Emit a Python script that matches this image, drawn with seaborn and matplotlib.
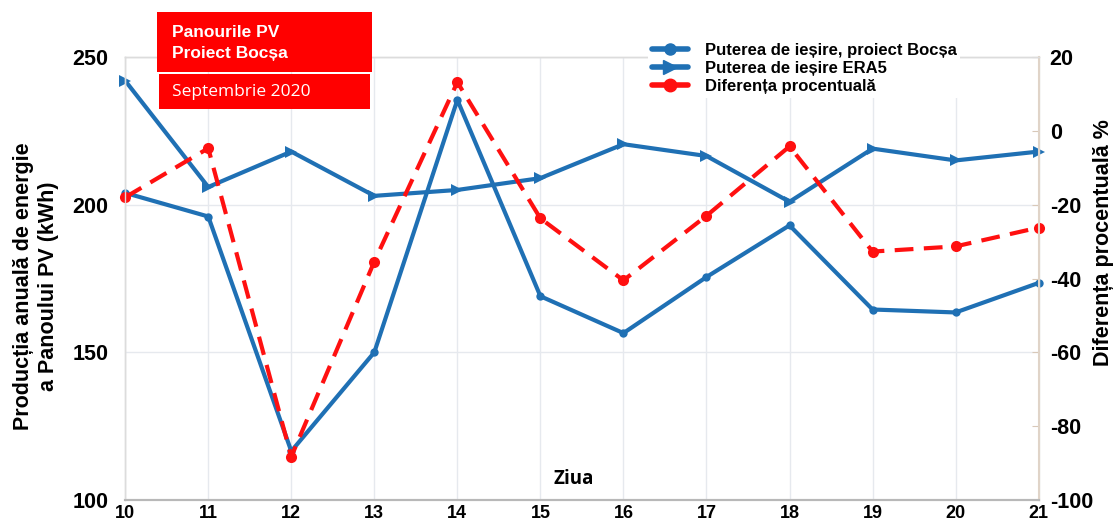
import numpy as np
import pandas as pd
import matplotlib.pyplot as plt
from matplotlib.patches import Rectangle
from matplotlib.lines import Line2D
import seaborn as sns

# Date
zile = list(range(10, 22))
putere_bocsa = [204, 196, 116.5, 150, 235.5, 169, 156.5, 175.5, 193, 164.5, 163.5, 173.5]
putere_era5 = [242, 206, 218, 203, 205, 209, 220.5, 216.5, 201, 219, 215, 218]
diferenta = [-18, -4.7, -88.3, -35.4, 13.2, -23.7, -40.5, -23, -4.2, -32.7, -31.3, -26.2]

eticheta_bocsa = "Puterea de ieșire, proiect Bocșa"
eticheta_era5 = "Puterea de ieșire ERA5"
eticheta_dif = "Diferența procentuală"

albastru = '#1f70b4'
rosu = '#ff1010'

sns.set_style("white")
plt.rcParams['font.family'] = ['Liberation Sans', 'DejaVu Sans']
plt.rcParams['axes.unicode_minus'] = False
plt.rcParams['text.color'] = 'black'
plt.rcParams['xtick.color'] = 'black'
plt.rcParams['ytick.color'] = 'black'

fig = plt.figure(figsize=(11.18, 5.24), dpi=100)
ax = fig.add_axes([0.112, 0.046, 0.817, 0.845])
ax2 = ax.twinx()

sns.lineplot(x=zile, y=putere_bocsa, ax=ax, color=albastru, lw=3,
             marker='o', markersize=6, markeredgewidth=0, legend=False, clip_on=False)
sns.lineplot(x=zile, y=putere_era5, ax=ax, color=albastru, lw=3,
             marker='>', markersize=8, markeredgewidth=0, legend=False, clip_on=False)
sns.lineplot(x=zile, y=diferenta, ax=ax2, color=rosu, lw=3, linestyle=(0, (4.5, 2.5)),
             marker='o', markersize=8, markeredgewidth=0, legend=False, clip_on=False)

ax.set_xlim(10, 21)
ax.set_ylim(100, 250)
ax2.set_ylim(-100, 20)
ax.set_xticks(zile)
ax.set_yticks([100, 150, 200, 250])
ax2.set_yticks([-100, -80, -60, -40, -20, 0, 20])

ax.grid(True, color='#e6e9ee', lw=1)
ax.set_axisbelow(True)
ax2.grid(False)

narrow = ['Liberation Sans Narrow', 'Liberation Sans', 'DejaVu Sans']
ax.tick_params(axis='x', length=4, direction='in', color='#b0b0b0', pad=4, labelcolor='black')
for lbl in ax.get_xticklabels():
    lbl.set_fontfamily(narrow)
    lbl.set_fontsize(13)
    lbl.set_fontweight('bold')
ax.tick_params(axis='y', length=0, pad=12, labelsize=15.5, labelcolor='black')
for lbl in ax.get_yticklabels():
    lbl.set_fontweight('bold')
ax2.tick_params(axis='y', length=5, direction='in', color='#d8c8b8', pad=8, labelsize=15.5,
                labelcolor='black')
for lbl in ax2.get_yticklabels():
    lbl.set_fontweight('bold')

for a in (ax, ax2):
    for s in a.spines.values():
        s.set_color('#dcdcdc')
        s.set_linewidth(1)
    a.spines['bottom'].set_color('#b8b8b8')
    a.spines['bottom'].set_linewidth(1.5)
ax2.spines['right'].set_color('#e0d4c8')
ax2.spines['right'].set_linewidth(1.5)

ax.set_xlabel('')
ax.set_ylabel('')
ax2.set_ylabel('')

# etichete axe
fig.text(36 / 1118, 1 - 286 / 524, "Producția anuală de energie\na Panoului PV (kWh)",
         rotation=90, ha='center', va='center', fontsize=15.5, fontweight='bold',
         linespacing=1.3, color='black')
fig.text(1103 / 1118, 1 - 243 / 524, "Diferența procentuală %", rotation=90,
         ha='center', va='center', fontsize=15.5, fontweight='bold', color='black')
ax.text(574 / 1118, 1 - 479 / 524, "Ziua", transform=fig.transFigure, ha='center',
        va='center', fontsize=13.5, fontweight='bold', family=['Open Sans', 'DejaVu Sans'],
        color='black', bbox=dict(facecolor='white', edgecolor='none', pad=2), zorder=5)

# casete rosii
W, H = 1118, 524
fig.add_artist(Rectangle((157 / W, 1 - 72 / H), 215 / W, 60 / H, transform=fig.transFigure,
                         facecolor='#ff0000', edgecolor='none', zorder=10))
fig.add_artist(Rectangle((159 / W, 1 - 109 / H), 211 / W, 35 / H, transform=fig.transFigure,
                         facecolor='#ff0000', edgecolor='none', zorder=10))
fig.text(172 / W, 1 - 43 / H, "Panourile PV\nProiect Bocșa", ha='left', va='center',
         color='white', fontsize=12.5, fontweight='bold', linespacing=1.45, zorder=11)
fig.text(172 / W, 1 - 92 / H, "Septembrie 2020", ha='left', va='center', color='white',
         fontsize=12.5, family=['Open Sans', 'DejaVu Sans'], zorder=11)

# legenda
handles = [
    Line2D([], [], color=albastru, lw=4, marker='o', markersize=8),
    Line2D([], [], color=albastru, lw=4, marker='>', markersize=10),
    Line2D([], [], color=rosu, lw=4, marker='o', markersize=9),
]
leg = fig.legend(handles, [eticheta_bocsa, eticheta_era5, eticheta_dif],
                 loc='upper left', bbox_to_anchor=(640 / W, 1 - 31 / H),
                 frameon=True, facecolor='white', edgecolor='none', framealpha=1,
                 handlelength=2.2, handletextpad=1.0, labelspacing=0.2,
                 borderpad=0.2, prop={'weight': 'bold', 'size': 12})
for t in leg.get_texts():
    t.set_color('black')
leg.set_zorder(12)

fig.savefig('out.png', dpi=100)
